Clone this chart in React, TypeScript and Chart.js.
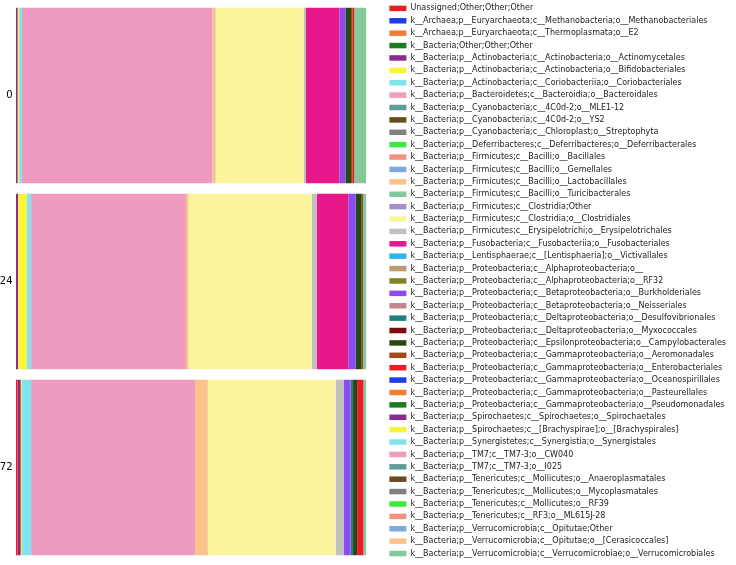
import React, { useEffect, useRef } from 'react';
import { Chart, registerables } from 'chart.js';

Chart.register(...registerables);

const categories = ['0', '24', '72'];

const taxa = [
  'Unassigned;Other;Other;Other',
  'k__Archaea;p__Euryarchaeota;c__Methanobacteria;o__Methanobacteriales',
  'k__Archaea;p__Euryarchaeota;c__Thermoplasmata;o__E2',
  'k__Bacteria;Other;Other;Other',
  'k__Bacteria;p__Actinobacteria;c__Actinobacteria;o__Actinomycetales',
  'k__Bacteria;p__Actinobacteria;c__Actinobacteria;o__Bifidobacteriales',
  'k__Bacteria;p__Actinobacteria;c__Coriobacteriia;o__Coriobacteriales',
  'k__Bacteria;p__Bacteroidetes;c__Bacteroidia;o__Bacteroidales',
  'k__Bacteria;p__Cyanobacteria;c__4C0d-2;o__MLE1-12',
  'k__Bacteria;p__Cyanobacteria;c__4C0d-2;o__YS2',
  'k__Bacteria;p__Cyanobacteria;c__Chloroplast;o__Streptophyta',
  'k__Bacteria;p__Deferribacteres;c__Deferribacteres;o__Deferribacterales',
  'k__Bacteria;p__Firmicutes;c__Bacilli;o__Bacillales',
  'k__Bacteria;p__Firmicutes;c__Bacilli;o__Gemellales',
  'k__Bacteria;p__Firmicutes;c__Bacilli;o__Lactobacillales',
  'k__Bacteria;p__Firmicutes;c__Bacilli;o__Turicibacterales',
  'k__Bacteria;p__Firmicutes;c__Clostridia;Other',
  'k__Bacteria;p__Firmicutes;c__Clostridia;o__Clostridiales',
  'k__Bacteria;p__Firmicutes;c__Erysipelotrichi;o__Erysipelotrichales',
  'k__Bacteria;p__Fusobacteria;c__Fusobacteriia;o__Fusobacteriales',
  'k__Bacteria;p__Lentisphaerae;c__[Lentisphaeria];o__Victivallales',
  'k__Bacteria;p__Proteobacteria;c__Alphaproteobacteria;o__',
  'k__Bacteria;p__Proteobacteria;c__Alphaproteobacteria;o__RF32',
  'k__Bacteria;p__Proteobacteria;c__Betaproteobacteria;o__Burkholderiales',
  'k__Bacteria;p__Proteobacteria;c__Betaproteobacteria;o__Neisseriales',
  'k__Bacteria;p__Proteobacteria;c__Deltaproteobacteria;o__Desulfovibrionales',
  'k__Bacteria;p__Proteobacteria;c__Deltaproteobacteria;o__Myxococcales',
  'k__Bacteria;p__Proteobacteria;c__Epsilonproteobacteria;o__Campylobacterales',
  'k__Bacteria;p__Proteobacteria;c__Gammaproteobacteria;o__Aeromonadales',
  'k__Bacteria;p__Proteobacteria;c__Gammaproteobacteria;o__Enterobacteriales',
  'k__Bacteria;p__Proteobacteria;c__Gammaproteobacteria;o__Oceanospirillales',
  'k__Bacteria;p__Proteobacteria;c__Gammaproteobacteria;o__Pasteurellales',
  'k__Bacteria;p__Proteobacteria;c__Gammaproteobacteria;o__Pseudomonadales',
  'k__Bacteria;p__Spirochaetes;c__Spirochaetes;o__Spirochaetales',
  'k__Bacteria;p__Spirochaetes;c__[Brachyspirae];o__[Brachyspirales]',
  'k__Bacteria;p__Synergistetes;c__Synergistia;o__Synergistales',
  'k__Bacteria;p__TM7;c__TM7-3;o__CW040',
  'k__Bacteria;p__TM7;c__TM7-3;o__I025',
  'k__Bacteria;p__Tenericutes;c__Mollicutes;o__Anaeroplasmatales',
  'k__Bacteria;p__Tenericutes;c__Mollicutes;o__Mycoplasmatales',
  'k__Bacteria;p__Tenericutes;c__Mollicutes;o__RF39',
  'k__Bacteria;p__Tenericutes;c__RF3;o__ML615J-28',
  'k__Bacteria;p__Verrucomicrobia;c__Opitutae;Other',
  'k__Bacteria;p__Verrucomicrobia;c__Opitutae;o__[Cerasicoccales]',
  'k__Bacteria;p__Verrucomicrobia;c__Verrucomicrobiae;o__Verrucomicrobiales',
];

const palette = [
  '#ed1c24', '#1c3ee6', '#f07f35', '#1d7a20', '#8b2c8c', '#f8f43a', '#80e4ee',
  '#ef9bc0', '#5f9c98', '#6b4a20', '#808080', '#3cea3c', '#f0927c', '#81a9d7',
  '#fbc28c', '#84c89c', '#a48fc8', '#fdf39c', '#c0c0c0', '#e8178a', '#2ab4e8',
  '#bf9a6e', '#808024', '#8a4cf0', '#c0878e', '#1f7f7d', '#7a0c0c', '#2a4612',
  '#a04a1c',
];

// relative abundance (%) per taxon, same order as `taxa`
const values0 = [
  0, 0, 0, 0, 0.45, 0.45, 0.8, 54.35, 0, 0, 0, 0, 0, 0, 0.95, 0,
  0, 25.1, 0.65, 9.55, 0, 0, 0, 1.7, 0, 0, 0, 1.6, 0.5, 0.45, 0, 0,
  0, 0, 0, 0, 0, 0, 0, 0, 0, 0, 0, 0, 3.45,
];
const values24 = [
  0, 0, 0, 0, 0.57, 2.5, 1.23, 44.2, 0, 0, 0, 0, 0, 0, 0.7, 0,
  0, 35.24, 1.46, 8.94, 0, 0, 0, 2.09, 0, 0, 0, 1.72, 0.4, 0, 0, 0,
  0, 0, 0, 0, 0, 0, 0, 0, 0, 0, 0, 0, 0.95,
];
const values72 = [
  0.45, 0, 0, 0, 0.9, 0.37, 2.58, 46.79, 0, 0, 0, 0, 0, 0, 3.64, 0,
  0, 36.47, 2.3, 0, 0, 0, 0, 2.0, 0, 0.69, 0, 1.15, 0, 1.8, 0, 0,
  0, 0, 0, 0, 0, 0, 0, 0, 0, 0, 0, 0, 0.86,
];

const FONT = 'DejaVu Sans';

export default function App() {
  const ref = useRef<HTMLCanvasElement>(null);

  useEffect(() => {
    if (!ref.current) return;
    const datasets = taxa.map((name, i) => ({
      label: name,
      data: [values0[i], values24[i], values72[i]],
      backgroundColor: palette[i % palette.length],
      borderWidth: 0,
      barPercentage: 0.943,
      categoryPercentage: 1,
    }));
    const hidden = {
      grid: { display: false, drawTicks: false },
      border: { display: false },
      ticks: { display: false },
    };
    const chart = new Chart(ref.current, {
      type: 'bar',
      data: { labels: categories, datasets },
      options: {
        indexAxis: 'y',
        responsive: false,
        animation: false,
        events: [],
        layout: { padding: 0 },
        scales: {
          x: {
            type: 'linear',
            stacked: true,
            min: 0,
            max: 100,
            position: 'bottom',
            ...hidden,
            afterFit: (s: any) => {
              s.height = 4.5;
              s.paddingLeft = 0;
              s.paddingRight = 0;
            },
          },
          xTop: {
            type: 'linear',
            position: 'top',
            ...hidden,
            afterFit: (s: any) => {
              s.height = 2.5;
              s.paddingLeft = 0;
              s.paddingRight = 0;
            },
          },
          y: {
            type: 'category',
            stacked: true,
            position: 'left',
            grid: { display: false, drawTicks: false },
            border: { display: false },
            ticks: { color: '#000', padding: 3.5, font: { family: FONT, size: 10 } },
            afterFit: (s: any) => {
              s.width = 16;
              s.paddingTop = 0;
              s.paddingBottom = 0;
            },
          },
          yRight: {
            type: 'linear',
            position: 'right',
            ...hidden,
            afterFit: (s: any) => {
              s.width = 18.6;
              s.paddingTop = 0;
              s.paddingBottom = 0;
            },
          },
        },
        plugins: {
          tooltip: { enabled: false },
          title: { display: false },
          legend: {
            position: 'right',
            align: 'start',
            maxWidth: 352.4,
            labels: {
              color: '#222',
              font: { family: FONT, size: 8 },
              boxWidth: 17,
              boxHeight: 5.5,
              padding: 4.39,
            },
          },
        },
      },
    } as any);
    return () => chart.destroy();
  }, []);

  return (
    <div style={{ position: 'fixed', left: 0, top: 0, width: 736, height: 565, background: '#fff' }}>
      <canvas ref={ref} width={736} height={565} style={{ display: 'block' }} />
    </div>
  );
}
